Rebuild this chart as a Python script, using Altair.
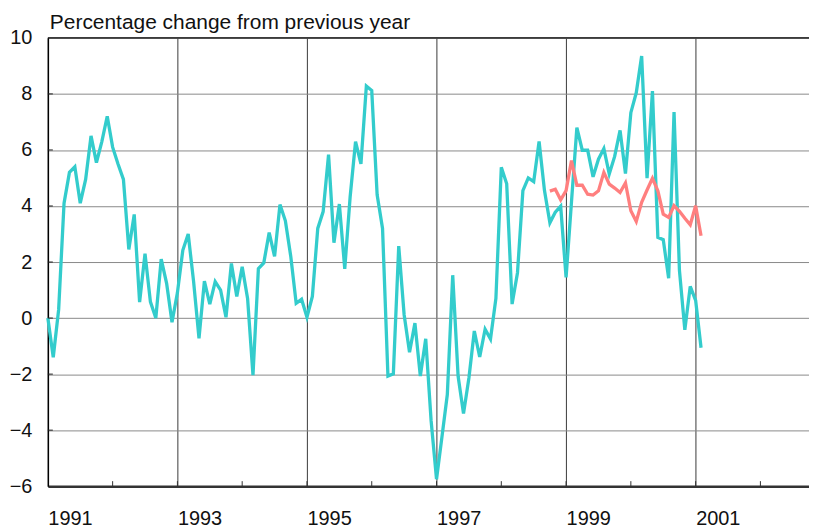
import altair as alt
import pandas as pd

START_YEAR = 1991
teal_values = [
    0.0, -1.4, 0.3, 4.1, 5.2, 5.4, 4.1, 4.95, 6.5, 5.55, 6.3, 7.2,
    6.1, 5.5, 4.95, 2.45, 3.7, 0.57, 2.3, 0.58, 0.0, 2.1, 1.24, -0.15,
    0.9, 2.42, 3.0, 1.3, -0.72, 1.32, 0.5, 1.3, 1.0, 0.03, 1.95, 0.77,
    1.83, 0.7, -2.04, 1.76, 1.97, 3.05, 2.2, 4.05, 3.47, 2.2, 0.53, 0.67,
    0.03, 0.77, 3.2, 3.8, 5.83, 2.69, 4.07, 1.76, 4.33, 6.3, 5.5, 8.28,
    8.12, 4.4, 3.2, -2.07, -1.99, 2.57, 0.12, -1.22, -0.18, -2.07, -0.74, -3.67,
    -5.75, -4.25, -2.73, 1.53, -2.08, -3.41, -2.14, -0.46, -1.39, -0.4, -0.75, 0.7,
    5.38, 4.79, 0.5, 1.62, 4.55, 5.0, 4.87, 6.3, 4.55, 3.4, 3.78, 3.99,
    1.45, 4.15, 6.8, 5.99, 5.99, 5.04, 5.67, 6.05, 5.14, 5.77, 6.7, 5.16,
    7.33, 8.04, 9.35, 4.99, 8.1, 2.88, 2.8, 1.42, 7.35, 1.7, -0.42, 1.13,
    0.63, -1.06,
]
red_start_index = 93
red_values = [
    4.53, 4.6, 4.22,
    4.55, 5.62, 4.74, 4.74, 4.42, 4.39, 4.54, 5.2, 4.78, 4.64, 4.48, 4.82,
    3.83, 3.45, 4.13, 4.57, 4.99, 4.54, 3.71, 3.59, 4.01, 3.81, 3.56, 3.33,
    4.01, 2.94,
]
x_label_years = [1991, 1993, 1995, 1997, 1999, 2001]
x_tick_years = list(range(1992, 2003))
y_values = [-6, -4, -2, 0, 2, 4, 6, 8, 10]
title_text = "Percentage change from previous year"

teal_df = pd.DataFrame({
    "year": [START_YEAR + i / 12 for i in range(len(teal_values))],
    "value": teal_values,
})
red_df = pd.DataFrame({
    "year": [START_YEAR + (red_start_index + i) / 12 for i in range(len(red_values))],
    "value": red_values,
})

W, H = 764, 450
FONT = "Liberation Sans"
xscale = alt.Scale(domain=[1991, 2002.75], nice=False, zero=False)
yscale = alt.Scale(domain=[-6, 10], nice=False, zero=False)

base_x = alt.X("year:Q", scale=xscale, axis=alt.Axis(
    values=x_label_years, format="d", title=None, grid=True, gridColor="#3a3a3a",
    gridWidth=1, domainColor="#333333", domainWidth=2.5, ticks=False, tickSize=0,
    labelAlign="left", labelPadding=22, labelFontSize=20, labelFont=FONT,
    labelColor="#111111", labelFlush=False, labelOverlap=False, labelBound=False))
base_y = alt.Y("value:Q", scale=yscale, axis=alt.Axis(
    values=y_values, title=None, grid=True, gridColor="#8a8a8a", gridWidth=1,
    domainColor="#000000", domainWidth=1.5, ticks=False, tickSize=0,
    labelPadding=16, labelFontSize=20, labelFont=FONT, labelColor="#111111"))

teal = alt.Chart(teal_df).mark_line(color="#33CCCC", strokeWidth=3.3).encode(x=base_x, y=base_y)
red = alt.Chart(red_df).mark_line(color="#FF7F7F", strokeWidth=3.3).encode(x="year:Q", y="value:Q")

xt_df = pd.DataFrame({"year": x_tick_years})
xticks = alt.Chart(xt_df).mark_rule(color="#333333", strokeWidth=1).encode(
    x="year:Q", y=alt.datum(-6), y2=alt.datum(-5.82))
yt_df = pd.DataFrame({"value": y_values[1:-1]})
yticks = alt.Chart(yt_df).mark_rule(color="#222222", strokeWidth=1).encode(
    y="value:Q", x=alt.datum(1991), x2=alt.datum(1991.077))
top = alt.Chart(pd.DataFrame({"value": [10]})).mark_rule(color="#000000", strokeWidth=1.5).encode(
    y="value:Q", x=alt.value(0), x2=alt.value(W))
title = alt.Chart(pd.DataFrame({"t": [title_text]})).mark_text(
    align="left", baseline="alphabetic", fontSize=21, font=FONT, color="#111111").encode(
    x=alt.value(2), y=alt.value(-8.5), text="t:N")

chart = alt.layer(teal, xticks, yticks, top, red, title).properties(
    width=W, height=H,
    autosize=alt.AutoSizeParams(type="none"),
    padding={"left": 40, "top": 29, "right": 0, "bottom": 48},
).configure_view(stroke=None)

chart.save("out.html", embed_options={"renderer": "svg", "actions": False})
